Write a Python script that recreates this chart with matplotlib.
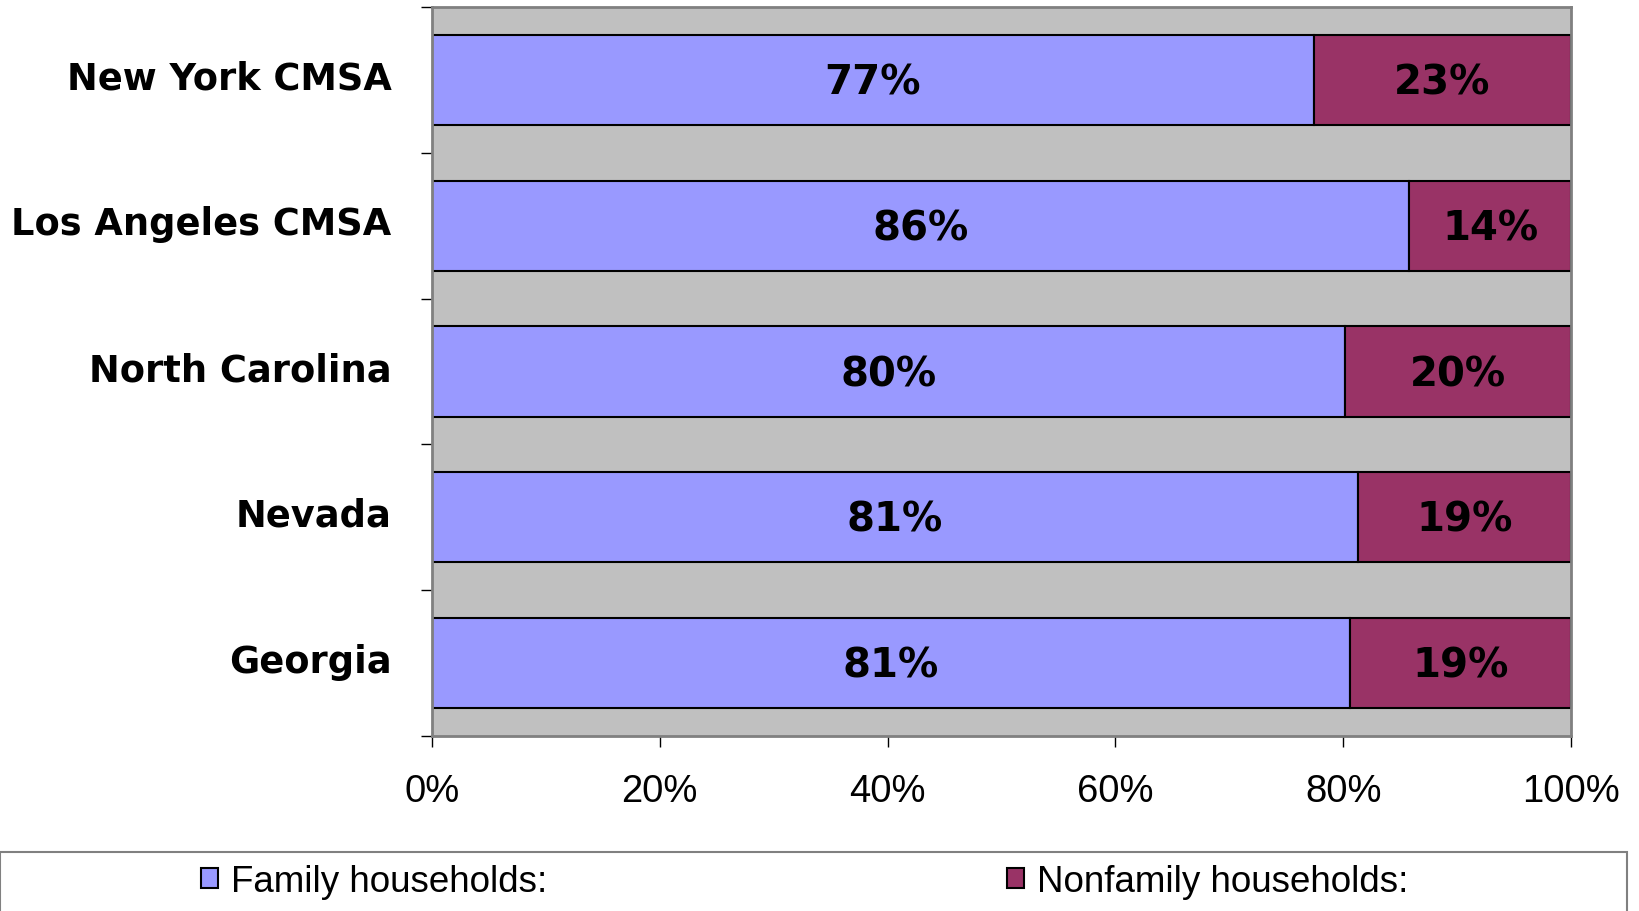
import matplotlib
matplotlib.use("Agg")
import matplotlib.pyplot as plt
import matplotlib.transforms as mtransforms
from matplotlib.patches import Patch, Rectangle

# data (shares of households, percent)
regions = ["New York CMSA", "Los Angeles CMSA", "North Carolina", "Nevada", "Georgia"]
family = [77.4, 85.8, 80.2, 81.3, 80.6]
nonfamily = [100 - v for v in family]
series_names = ["Family households:", "Nonfamily households:"]
x_ticks = [0, 20, 40, 60, 80, 100]

fam_color = "#9999FF"
non_color = "#993366"

fig = plt.figure(figsize=(16.4, 9.11), dpi=100)
ax = fig.add_axes([432 / 1640, 1 - 736 / 911, (1571 - 432) / 1640, (736 - 7) / 911])
ax.set_facecolor("#C0C0C0")

y = list(range(len(regions)))
ax.barh(y, family, height=0.62, color=fam_color, edgecolor="black", linewidth=1.5)
ax.barh(y, nonfamily, left=family, height=0.62, color=non_color, edgecolor="black", linewidth=1.5)

# value labels centred in each segment (caps centred on the bar)
for i in y:
    for x, v in [(family[i] / 2, family[i]), (family[i] + nonfamily[i] / 2, nonfamily[i])]:
        ax.annotate(f"{round(v)}%", (x, i), xytext=(0, -10.5), textcoords="offset points",
                    ha="center", va="baseline", fontsize=29, fontweight="bold",
                    family="DejaVu Sans")

ax.set_xlim(0, 100)
ax.set_ylim(len(regions) - 0.5, -0.5)

# tick marks at category boundaries, labels at category centres
ax.set_yticks([i - 0.5 for i in range(len(regions) + 1)])
ax.set_yticklabels([])
ax.set_yticks(y, minor=True)
ax.set_yticklabels(regions, minor=True, fontsize=26.5, fontweight="bold", family="DejaVu Sans")
ax.tick_params(axis="y", which="major", length=8, width=1, direction="out")
ax.tick_params(axis="y", which="minor", length=0, pad=29)
shift = mtransforms.ScaledTranslation(0, 3.5 / 72, fig.dpi_scale_trans)
for lab in ax.get_yticklabels(minor=True):
    lab.set_transform(lab.get_transform() + shift)

ax.set_xticks(x_ticks)
ax.set_xticklabels([f"{t}%" for t in x_ticks], fontsize=27.5, family="Liberation Sans")
ax.tick_params(axis="x", length=8, width=1, direction="out", pad=19)

for s in ax.spines.values():
    s.set_color("#808080")
    s.set_linewidth(2)

# legend box along the bottom
fig.patches.append(Rectangle((0, -0.05), 1627 / 1640, (911 - 852) / 911 + 0.05,
                             transform=fig.transFigure, facecolor="white",
                             edgecolor="#808080", linewidth=1.5))
handles = [Patch(facecolor=fam_color, edgecolor="black", linewidth=1.5),
           Patch(facecolor=non_color, edgecolor="black", linewidth=1.5)]
fig.legend(handles, series_names, loc="center left", bbox_to_anchor=(201 / 1640, 1 - 882 / 911),
           ncol=2, frameon=False, prop={"family": "Liberation Sans", "size": 26.5},
           handlelength=0.46, handleheight=0.46, handletextpad=0.35, columnspacing=12.5,
           borderpad=0, borderaxespad=0)

fig.savefig("out.png", dpi=100)
